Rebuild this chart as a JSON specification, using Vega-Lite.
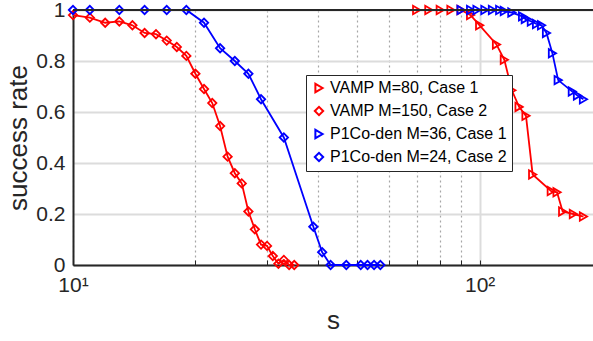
{
  "$schema": "https://vega.github.io/schema/vega-lite/v6.json",
  "autosize": "none",
  "width": 520,
  "height": 255,
  "padding": {"left": 73, "top": 10, "right": 0, "bottom": 76},
  "background": "white",
  "config": {
    "view": {"stroke": null},
    "font": "Liberation Sans",
    "axis": {"labelFont": "Liberation Sans", "titleFont": "Liberation Sans", "labelColor": "#262626", "titleColor": "#262626", "domainColor": "#262626", "domainWidth": 2, "tickColor": "#262626", "titleFontWeight": "normal"}
  },
  "data": {"values": [
    {"series": "VAMP M=80, Case 1", "s": 70, "rate": 1},
    {"series": "VAMP M=80, Case 1", "s": 75, "rate": 1},
    {"series": "VAMP M=80, Case 1", "s": 80, "rate": 1},
    {"series": "VAMP M=80, Case 1", "s": 85, "rate": 1},
    {"series": "VAMP M=80, Case 1", "s": 90, "rate": 1},
    {"series": "VAMP M=80, Case 1", "s": 95, "rate": 0.98},
    {"series": "VAMP M=80, Case 1", "s": 100, "rate": 0.94},
    {"series": "VAMP M=80, Case 1", "s": 110, "rate": 0.865},
    {"series": "VAMP M=80, Case 1", "s": 115, "rate": 0.805},
    {"series": "VAMP M=80, Case 1", "s": 120, "rate": 0.685},
    {"series": "VAMP M=80, Case 1", "s": 125, "rate": 0.62},
    {"series": "VAMP M=80, Case 1", "s": 130, "rate": 0.585},
    {"series": "VAMP M=80, Case 1", "s": 135, "rate": 0.355},
    {"series": "VAMP M=80, Case 1", "s": 150, "rate": 0.29},
    {"series": "VAMP M=80, Case 1", "s": 155, "rate": 0.285},
    {"series": "VAMP M=80, Case 1", "s": 160, "rate": 0.21},
    {"series": "VAMP M=80, Case 1", "s": 170, "rate": 0.2},
    {"series": "VAMP M=80, Case 1", "s": 180, "rate": 0.19},

    {"series": "VAMP M=150, Case 2", "s": 10, "rate": 0.98},
    {"series": "VAMP M=150, Case 2", "s": 11, "rate": 0.97},
    {"series": "VAMP M=150, Case 2", "s": 12, "rate": 0.95},
    {"series": "VAMP M=150, Case 2", "s": 13, "rate": 0.955},
    {"series": "VAMP M=150, Case 2", "s": 14, "rate": 0.94},
    {"series": "VAMP M=150, Case 2", "s": 15, "rate": 0.91},
    {"series": "VAMP M=150, Case 2", "s": 16, "rate": 0.905},
    {"series": "VAMP M=150, Case 2", "s": 17, "rate": 0.88},
    {"series": "VAMP M=150, Case 2", "s": 18, "rate": 0.855},
    {"series": "VAMP M=150, Case 2", "s": 19, "rate": 0.82},
    {"series": "VAMP M=150, Case 2", "s": 20, "rate": 0.75},
    {"series": "VAMP M=150, Case 2", "s": 21, "rate": 0.69},
    {"series": "VAMP M=150, Case 2", "s": 22, "rate": 0.635},
    {"series": "VAMP M=150, Case 2", "s": 23, "rate": 0.545},
    {"series": "VAMP M=150, Case 2", "s": 24, "rate": 0.425},
    {"series": "VAMP M=150, Case 2", "s": 25, "rate": 0.36},
    {"series": "VAMP M=150, Case 2", "s": 26, "rate": 0.32},
    {"series": "VAMP M=150, Case 2", "s": 27, "rate": 0.21},
    {"series": "VAMP M=150, Case 2", "s": 28, "rate": 0.14},
    {"series": "VAMP M=150, Case 2", "s": 29, "rate": 0.08},
    {"series": "VAMP M=150, Case 2", "s": 30, "rate": 0.075},
    {"series": "VAMP M=150, Case 2", "s": 31, "rate": 0.035},
    {"series": "VAMP M=150, Case 2", "s": 32, "rate": 0.005},
    {"series": "VAMP M=150, Case 2", "s": 33, "rate": 0.02},
    {"series": "VAMP M=150, Case 2", "s": 34, "rate": 0},
    {"series": "VAMP M=150, Case 2", "s": 35, "rate": 0},

    {"series": "P1Co-den M=36, Case 1", "s": 90, "rate": 1},
    {"series": "P1Co-den M=36, Case 1", "s": 95, "rate": 1},
    {"series": "P1Co-den M=36, Case 1", "s": 98.5, "rate": 1},
    {"series": "P1Co-den M=36, Case 1", "s": 103, "rate": 1},
    {"series": "P1Co-den M=36, Case 1", "s": 107.5, "rate": 1},
    {"series": "P1Co-den M=36, Case 1", "s": 112, "rate": 1},
    {"series": "P1Co-den M=36, Case 1", "s": 115, "rate": 0.996},
    {"series": "P1Co-den M=36, Case 1", "s": 120, "rate": 0.99},
    {"series": "P1Co-den M=36, Case 1", "s": 127.5, "rate": 0.975},
    {"series": "P1Co-den M=36, Case 1", "s": 129.5, "rate": 0.965},
    {"series": "P1Co-den M=36, Case 1", "s": 134, "rate": 0.955},
    {"series": "P1Co-den M=36, Case 1", "s": 138, "rate": 0.945},
    {"series": "P1Co-den M=36, Case 1", "s": 142, "rate": 0.94},
    {"series": "P1Co-den M=36, Case 1", "s": 146, "rate": 0.91},
    {"series": "P1Co-den M=36, Case 1", "s": 151, "rate": 0.83},
    {"series": "P1Co-den M=36, Case 1", "s": 156, "rate": 0.725},
    {"series": "P1Co-den M=36, Case 1", "s": 169, "rate": 0.68},
    {"series": "P1Co-den M=36, Case 1", "s": 174, "rate": 0.665},
    {"series": "P1Co-den M=36, Case 1", "s": 180, "rate": 0.65},

    {"series": "P1Co-den M=24, Case 2", "s": 10, "rate": 1},
    {"series": "P1Co-den M=24, Case 2", "s": 11, "rate": 1},
    {"series": "P1Co-den M=24, Case 2", "s": 13, "rate": 1},
    {"series": "P1Co-den M=24, Case 2", "s": 15, "rate": 1},
    {"series": "P1Co-den M=24, Case 2", "s": 17, "rate": 1},
    {"series": "P1Co-den M=24, Case 2", "s": 19, "rate": 1},
    {"series": "P1Co-den M=24, Case 2", "s": 21, "rate": 0.95},
    {"series": "P1Co-den M=24, Case 2", "s": 23, "rate": 0.85},
    {"series": "P1Co-den M=24, Case 2", "s": 25, "rate": 0.8},
    {"series": "P1Co-den M=24, Case 2", "s": 27, "rate": 0.75},
    {"series": "P1Co-den M=24, Case 2", "s": 29, "rate": 0.65},
    {"series": "P1Co-den M=24, Case 2", "s": 33, "rate": 0.5},
    {"series": "P1Co-den M=24, Case 2", "s": 39, "rate": 0.15},
    {"series": "P1Co-den M=24, Case 2", "s": 41, "rate": 0.05},
    {"series": "P1Co-den M=24, Case 2", "s": 43, "rate": 0},
    {"series": "P1Co-den M=24, Case 2", "s": 47, "rate": 0},
    {"series": "P1Co-den M=24, Case 2", "s": 51, "rate": 0},
    {"series": "P1Co-den M=24, Case 2", "s": 53, "rate": 0},
    {"series": "P1Co-den M=24, Case 2", "s": 55, "rate": 0},
    {"series": "P1Co-den M=24, Case 2", "s": 57, "rate": 0}
  ]},
  "encoding": {
    "x": {"field": "s", "type": "quantitative",
      "scale": {"type": "log", "domain": [10, 190], "nice": false},
      "axis": {"orient": "bottom", "title": "s", "titleFontSize": 26, "titlePadding": 12,
        "values": [10, 20, 30, 40, 50, 60, 70, 80, 90, 100],
        "labelExpr": "datum.value == 10 ? '10¹' : (datum.value == 100 ? '10²' : '')",
        "labelFontSize": 21, "labelPadding": 14, "labelFlush": false, "labelOverlap": false,
        "tickSize": -5, "grid": true,
        "gridDash": {"condition": {"test": "datum.value == 100", "value": []}, "value": [2, 3]},
        "gridColor": {"condition": {"test": "datum.value == 100", "value": "#dcdcdc"}, "value": "#a6a6a6"},
        "gridWidth": {"condition": {"test": "datum.value == 100", "value": 2}, "value": 1.2}
      }
    },
    "y": {"field": "rate", "type": "quantitative",
      "scale": {"domain": [0, 1], "nice": false, "zero": false},
      "axis": {"title": "success rate", "titleFontSize": 26, "titlePadding": 4,
        "values": [0, 0.2, 0.4, 0.6, 0.8, 1], "format": "~g",
        "labelFontSize": 21, "labelPadding": 8, "ticks": false,
        "grid": true, "gridColor": "#dcdcdc", "gridWidth": 2}
    },
    "color": {"field": "series", "type": "nominal",
      "scale": {"domain": ["VAMP M=80, Case 1", "VAMP M=150, Case 2", "P1Co-den M=36, Case 1", "P1Co-den M=24, Case 2"],
        "range": ["#ff0000", "#ff0000", "#0000ff", "#0000ff"]},
      "legend": {"title": null, "orient": "none", "legendX": 233, "legendY": 65,
        "fillColor": "white", "strokeColor": "#262626", "padding": 5, "rowPadding": 5,
        "labelFont": "Liberation Sans", "labelFontSize": 16, "labelColor": "black", "labelLimit": 300, "labelOffset": 3,
        "symbolStrokeWidth": 2, "symbolSize": 70, "symbolFillColor": "transparent", "zindex": 10}
    },
    "shape": {"field": "series", "type": "nominal",
      "scale": {"domain": ["VAMP M=80, Case 1", "VAMP M=150, Case 2", "P1Co-den M=36, Case 1", "P1Co-den M=24, Case 2"],
        "range": ["triangle-right", "diamond", "triangle-right", "diamond"]},
      "legend": {"title": null, "orient": "none", "legendX": 233, "legendY": 65}
    }
  },
  "layer": [
    {"mark": {"type": "line", "strokeWidth": 1.8}, "encoding": {"shape": null}},
    {"mark": {"type": "point", "filled": false, "strokeWidth": 1.8, "size": 70, "opacity": 1}},
    {"mark": {"type": "rule", "color": "#262626", "strokeWidth": 2}, "encoding": {"x": null, "y": {"datum": 1}, "color": null, "shape": null}}
  ]
}
